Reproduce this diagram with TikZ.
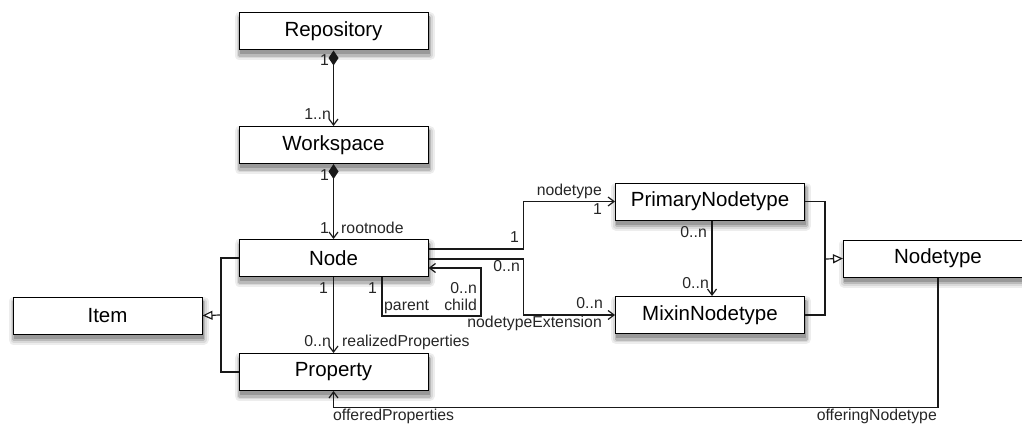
\documentclass[tikz,border=0pt]{standalone}
\usepackage{fontspec}
\setmainfont{Liberation Sans}
\usetikzlibrary{arrows.meta,backgrounds}

\begin{document}
\begin{tikzpicture}[x=1pt,y=-1pt,
  cls/.style={draw=black, line width=1pt, fill=white,
    minimum width=189pt, minimum height=37pt, inner sep=0pt,
    font=\fontsize{20.5}{24}\selectfont},
  shadowlayer/.style={line join=round},
  lbl/.style={font=\fontsize{15.8}{18}\selectfont, inner sep=0pt, text=black!85},
  conn/.style={line width=1.2pt, draw=black!90},
  nav/.style={conn, -{Straight Barb[length=6pt,width=9pt]}},
  comp/.style={conn, {Diamond[length=15pt,width=10pt]}-{Straight Barb[length=6pt,width=9pt]}},
  gen/.style={conn, -{Triangle[open,length=10pt,width=9pt,fill=white]}},
]
\useasboundingbox (0,0) rectangle (1022,425);

% classes
\node[cls] (rep)  at (333.5,31.5)  {Repository};
\node[cls] (ws)   at (333.5,145)   {Workspace};
\node[cls] (nd)   at (333.5,258)   {Node};
\node[cls] (prop) at (333.5,372)   {Property};
\node[cls] (item) at (107.5,315.5) {Item};
\node[cls] (pnt)  at (710,201.5)   {PrimaryNodetype};
\node[cls] (mnt)  at (710,315)     {MixinNodetype};
\node[cls] (nt)   at (938,258.5)   {Nodetype};

% soft drop shadows behind the class boxes
\begin{scope}[on background layer]
\foreach \n in {rep,ws,nd,prop,item,pnt,mnt,nt}{
  \filldraw[shadowlayer, black!7, line width=10pt]
    ([shift={(1pt,-5pt)}]\n.south west) rectangle ([shift={(1pt,-5pt)}]\n.north east);
  \filldraw[shadowlayer, black!15, line width=6pt]
    ([shift={(1pt,-5pt)}]\n.south west) rectangle ([shift={(1pt,-5pt)}]\n.north east);
  \filldraw[shadowlayer, black!27, line width=3pt]
    ([shift={(1pt,-5pt)}]\n.south west) rectangle ([shift={(1pt,-5pt)}]\n.north east);
  \fill[black!40]
    ([shift={(1pt,-4pt)}]\n.south west) rectangle ([shift={(1pt,-4pt)}]\n.north east);
}
\end{scope}

% compositions and navigable associations
\draw[comp] (rep.south) -- (ws.north);
\draw[comp] (ws.south) -- (nd.north);
\draw[nav] (nd.south) -- (prop.north);

\coordinate (loop) at (481,316);
\draw[nav] ([xshift=48.5pt]nd.south) |- (loop) |- ([yshift=-10pt]nd.east);

\draw[nav] ([yshift=9pt]nd.east) -- ++(95,0) |- (pnt.west);
\draw[nav] ([yshift=-1pt]nd.east) -- ++(95,0) |- (mnt.west);
\draw[nav] ([xshift=2pt]pnt.south) -- ([xshift=2pt]mnt.north);

\draw[nav] (nt.south) -- ++(0,130) -| (prop.south);

% generalizations
\coordinate (gj) at (825,259);
\draw[conn] (pnt.east) -| (gj) |- (mnt.east);
\draw[gen] (gj) -- (nt.west);

\coordinate (gi) at (221,315);
\draw[conn] (nd.west) -| (gi) |- (prop.west);
\draw[gen] (gi) -- (item.east);

% multiplicities and role names
\node[lbl, anchor=mid east] (m1)  at (329,63)  {1};
\node[lbl, anchor=mid east] (m2)  at (331,117) {1..n};
\node[lbl, anchor=mid east] (m3)  at (329,178) {1};
\node[lbl, anchor=mid east] (m4)  at (329,231) {1};
\node[lbl, anchor=mid west] (r1)  at (341,231) {rootnode};
\node[lbl, anchor=mid east] (m5)  at (328,291) {1};
\node[lbl, anchor=mid east] (m6)  at (331,344) {0..n};
\node[lbl, anchor=mid west] (r2)  at (342,344) {realizedProperties};
\node[lbl, anchor=mid east] (m7)  at (377,291) {1};
\node[lbl, anchor=mid west] (r3)  at (384,308) {parent};
\node[lbl, anchor=mid east] (m8)  at (477,291) {0..n};
\node[lbl, anchor=mid east] (r4)  at (477,308) {child};
\node[lbl, anchor=mid east] (m9)  at (519,240) {1};
\node[lbl, anchor=mid east] (r5)  at (602,193) {nodetype};
\node[lbl, anchor=mid east] (m10) at (602,212) {1};
\node[lbl, anchor=mid east] (m11) at (520,269) {0..n};
\node[lbl, anchor=mid east] (m12) at (603,306) {0..n};
\node[lbl, anchor=mid east] (r6)  at (602,325) {nodetypeExtension};
\node[lbl, anchor=mid east] (m13) at (707,235) {0..n};
\node[lbl, anchor=mid east] (m14) at (709,286) {0..n};
\node[lbl, anchor=mid west] (r7)  at (333,418) {offeredProperties};
\node[lbl, anchor=mid east] (r8)  at (937,418) {offeringNodetype};
\end{tikzpicture}
\end{document}
